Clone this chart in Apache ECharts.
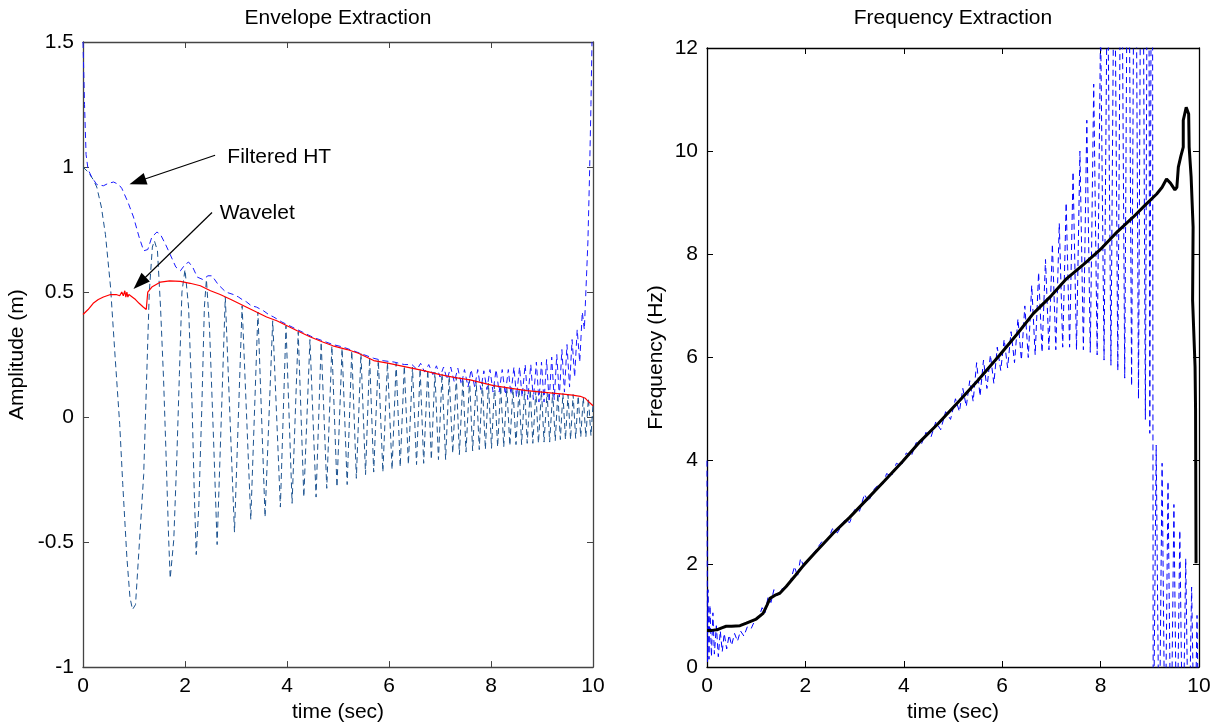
<!DOCTYPE html>
<html>
<head>
<meta charset="utf-8">
<title>Envelope / Frequency Extraction</title>
<script src="https://cdn.jsdelivr.net/npm/echarts@6/dist/echarts.min.js"></script>
<style>
  html, body { margin: 0; padding: 0; background: #fff; }
  #main { width: 1222px; height: 728px; }
</style>
</head>
<body>
<div id="main"></div>
<script>
// ---- values ----
// axis ranges: [min, max, interval]
var timeRange = [0, 10, 2];
var ampRange = [-1, 1.5, 0.5];
var freqRange = [0, 12, 2];

// left: measured signal (dark dashed), [time, amplitude]
var signal = [
  [0,1.0],[0.1,0.98],[0.2,0.95],[0.27,0.92],[0.36,0.84],[0.44,0.73],[0.54,0.52],[0.63,0.24],[0.72,-0.03],
  [0.78,-0.27],[0.86,-0.56],[0.92,-0.72],[0.97,-0.77],[1.03,-0.75],[1.11,-0.49],[1.19,-0.23],[1.25,0.17],
  [1.30,0.5],[1.36,0.68],[1.40,0.705],[1.46,0.665],[1.52,0.44],[1.58,0.15],[1.63,-0.16],[1.68,-0.49],
  [1.71,-0.645],[1.78,-0.49],[1.84,-0.16],[1.89,0.17],[1.94,0.5],[2.0,0.59],[2.07,0.44],[2.14,0.04],
  [2.18,-0.29],[2.22,-0.55],[2.27,-0.36],[2.33,0.04],[2.38,0.44],[2.42,0.55],[2.48,0.36],[2.56,-0.09],
  [2.63,-0.51],[2.79,0.48],[2.97,-0.46],[3.12,0.445],[3.29,-0.41],[3.43,0.42],[3.57,-0.40],[3.72,0.385],
  [3.87,-0.36],[3.98,0.365],[4.10,-0.345],[4.22,0.34],[4.33,-0.32],[4.45,0.31],[4.57,-0.32],[4.67,0.30],
  [4.78,-0.285],[4.88,0.285],[4.98,-0.28],[5.08,0.275],[5.18,-0.27],[5.27,0.265],[5.36,-0.245],[5.45,0.255],
  [5.54,-0.23],[5.62,0.24],[5.70,-0.22],[5.79,0.23],[5.88,-0.22],[5.97,0.22],[6.06,-0.21],[6.14,0.215],
  [6.22,-0.20],[6.30,0.205],[6.38,-0.19],[6.46,0.20],[6.54,-0.19],[6.61,0.195],[6.68,-0.185],[6.76,0.19],
  [6.83,-0.17],[6.90,0.18],[6.97,-0.17],[7.04,0.175],[7.11,-0.17],[7.18,0.165],[7.25,-0.145],[7.32,0.16],
  [7.38,-0.15],[7.45,0.155],[7.51,-0.14],[7.58,0.15],[7.64,-0.135],[7.71,0.145],[7.77,-0.13],[7.83,0.14],
  [7.89,-0.13],[7.95,0.135],[8.01,-0.125],[8.07,0.13],[8.13,-0.12],[8.19,0.125],[8.25,-0.12],[8.31,0.12],
  [8.37,-0.115],[8.43,0.115],[8.49,-0.11],[8.55,0.115],[8.60,-0.11],[8.66,0.11],[8.71,-0.105],[8.77,0.11],
  [8.82,-0.105],[8.88,0.105],[8.93,-0.105],[8.99,0.105],[9.04,-0.10],[9.10,0.10],[9.15,-0.10],[9.21,0.10],
  [9.26,-0.095],[9.31,0.095],[9.36,-0.09],[9.41,0.095],[9.46,-0.09],[9.51,0.09],[9.56,-0.09],[9.61,0.09],
  [9.66,-0.085],[9.71,0.085],[9.76,-0.08],[9.81,0.08],[9.86,-0.08],[9.91,0.075],[9.96,-0.075],[10,0.05]
];

// left: filtered Hilbert transform envelope (blue dashed)
var htEnvelope = [
  [0,1.5],[0.03,1.25],[0.06,1.05],[0.1,0.99],[0.17,0.96],[0.27,0.93],[0.4,0.925],[0.5,0.935],[0.6,0.94],
  [0.7,0.93],[0.76,0.915],[0.88,0.86],[0.99,0.80],[1.1,0.72],[1.19,0.665],[1.27,0.67],[1.35,0.72],
  [1.45,0.74],[1.52,0.73],[1.62,0.69],[1.71,0.65],[1.82,0.60],[1.91,0.585],[2.0,0.61],[2.07,0.62],
  [2.15,0.60],[2.24,0.56],[2.35,0.55],[2.45,0.565],[2.53,0.565],[2.65,0.53],[2.8,0.50],[2.95,0.49],
  [3.05,0.48],[3.12,0.47],[3.21,0.46],[3.3,0.445],[3.4,0.44],[3.54,0.425],[3.64,0.41],[3.74,0.40],
  [3.9,0.38],[4.1,0.36],[4.3,0.34],[4.5,0.32],[4.7,0.305],[4.9,0.29],[5.1,0.28],[5.3,0.265],[5.5,0.25],
  [5.7,0.235],[5.9,0.225],[6.1,0.22],[6.3,0.21],[6.45,0.21],[6.55,0.19],[6.62,0.215],[6.7,0.18],
  [6.78,0.21],[6.86,0.17],[6.93,0.205],[7.0,0.16],[7.07,0.2],[7.14,0.15],[7.21,0.2],[7.28,0.14],
  [7.35,0.195],[7.42,0.13],[7.48,0.19],[7.55,0.12],[7.61,0.19],[7.68,0.12],[7.74,0.19],[7.8,0.11],
  [7.86,0.185],[7.92,0.11],[7.98,0.19],[8.04,0.10],[8.1,0.19],[8.16,0.10],[8.22,0.19],[8.28,0.09],
  [8.34,0.19],[8.39,0.09],[8.45,0.2],[8.5,0.08],[8.56,0.2],[8.61,0.08],[8.67,0.21],[8.72,0.07],
  [8.78,0.21],[8.83,0.07],[8.89,0.22],[8.94,0.06],[8.99,0.22],[9.04,0.06],[9.09,0.23],[9.14,0.06],
  [9.19,0.24],[9.24,0.07],[9.29,0.25],[9.34,0.08],[9.39,0.27],[9.44,0.1],[9.49,0.29],[9.54,0.12],
  [9.59,0.31],[9.64,0.16],[9.69,0.35],[9.74,0.22],[9.79,0.42],[9.83,0.35],[9.87,0.55],[9.9,0.7],
  [9.93,0.95],[9.96,1.25],[9.98,1.5]
];

// left: wavelet envelope (red)
var waveletEnvelope = [
  [0,0.41],[0.1,0.43],[0.2,0.455],[0.3,0.47],[0.4,0.48],[0.54,0.49],[0.65,0.49],[0.72,0.485],[0.76,0.5],
  [0.79,0.485],[0.82,0.505],[0.84,0.48],[0.86,0.50],[0.88,0.48],[0.9,0.49],[1.03,0.47],[1.1,0.455],
  [1.18,0.44],[1.24,0.43],[1.27,0.50],[1.35,0.52],[1.52,0.54],[1.7,0.545],[1.91,0.543],[2.1,0.535],
  [2.3,0.525],[2.5,0.505],[2.69,0.49],[2.9,0.47],[3.15,0.445],[3.4,0.42],[3.6,0.40],[3.8,0.385],
  [4.0,0.365],[4.2,0.345],[4.46,0.32],[4.7,0.30],[4.9,0.285],[5.05,0.277],[5.18,0.27],[5.4,0.255],
  [5.7,0.226],[6.0,0.215],[6.35,0.20],[6.7,0.185],[7.0,0.17],[7.3,0.158],[7.59,0.149],[8.05,0.126],
  [8.4,0.115],[8.7,0.106],[9.0,0.10],[9.36,0.093],[9.6,0.088],[9.75,0.083],[9.85,0.075],[9.92,0.06],
  [10,0.045]
];

// right: HT instantaneous frequency (blue dashed), [time, Hz]
var htFrequency = [
  [0,4.0],[0.01,0.1],[0.02,1.5],[0.04,0.15],[0.06,1.2],[0.09,0.2],[0.12,1.05],[0.15,0.25],[0.19,0.8],
  [0.23,0.2],[0.27,0.7],[0.31,0.3],[0.35,0.65],[0.4,0.35],[0.45,0.62],[0.5,0.42],[0.56,0.65],[0.62,0.5],
  [0.68,0.7],[0.75,0.6],[0.82,0.78],[0.9,0.75],[0.98,0.92],[1.05,0.95],[1.12,1.15],[1.18,1.05],
  [1.24,1.35],[1.3,1.25],[1.36,1.5],[1.42,1.38],[1.5,1.5],[1.6,1.55],[1.7,1.68],[1.78,1.95],[1.84,1.75],
  [1.9,2.1],[1.97,1.95],[2.1,2.12],[2.2,2.25],[2.35,2.45],[2.45,2.45],[2.55,2.68],[2.65,2.6],[2.8,2.85],
  [2.9,2.8],[3.0,3.05],[3.1,3.02],[3.2,3.35],[3.28,3.2],[3.4,3.45],[3.5,3.55],[3.58,3.55],[3.65,3.75],
  [3.75,3.7],[3.85,3.95],[3.95,3.9],[4.05,4.15],[4.15,4.08],[4.25,4.35],[4.35,4.3],[4.45,4.55],
  [4.55,4.45],[4.65,4.75],[4.75,4.6],[4.85,4.95],[4.95,4.8],[5.05,5.2],[5.13,4.95],[5.2,5.4],[5.27,5.05],
  [5.34,5.55],[5.41,5.15],[5.48,5.9],[5.55,5.25],[5.62,5.95],[5.69,5.4],[5.76,6.05],[5.83,5.5],
  [5.9,6.2],[5.97,5.75],[6.04,6.35],[6.11,5.8],[6.18,6.5],[6.25,5.9],[6.32,6.75],[6.39,5.95],[6.46,7.0],
  [6.53,6.0],[6.6,7.4],[6.67,6.05],[6.74,7.65],[6.81,6.1],[6.88,7.9],[6.95,6.15],[7.02,8.2],[7.09,6.15],
  [7.16,8.6],[7.23,6.2],[7.3,9.0],[7.37,6.2],[7.44,9.6],[7.51,6.15],[7.58,10.0],[7.65,6.15],[7.72,10.6],
  [7.79,6.1],[7.86,11.3],[7.93,6.05],[8.0,12.5],[8.07,5.95],[8.14,14],[8.21,5.85],[8.28,15],[8.35,5.75],
  [8.42,16],[8.49,5.6],[8.56,17],[8.63,5.45],[8.7,18],[8.77,5.2],[8.84,19],[8.91,4.8],[8.97,20],
  [9.0,4.53],[9.05,20],[9.07,-2],[9.13,4.3],[9.19,-2],[9.25,3.95],[9.31,-2],[9.37,3.6],[9.43,-2],
  [9.49,3.15],[9.55,-2],[9.61,2.65],[9.67,-2],[9.73,2.1],[9.79,-2],[9.85,1.55],[9.91,-2],[9.96,1.0],[10,-2]
];

// right: wavelet ridge frequency (thick black)
var waveletFrequency = [
  [0,0.71],[0.1,0.71],[0.2,0.72],[0.3,0.76],[0.39,0.79],[0.5,0.79],[0.67,0.8],[0.8,0.85],[1.0,0.93],
  [1.14,1.04],[1.22,1.2],[1.28,1.33],[1.4,1.4],[1.48,1.43],[1.61,1.56],[1.8,1.78],[1.97,1.98],
  [2.2,2.22],[2.56,2.59],[2.9,2.9],[3.24,3.24],[3.6,3.6],[3.97,3.98],[4.33,4.37],[4.7,4.72],[5.14,5.17],
  [5.5,5.55],[5.95,6.05],[6.3,6.45],[6.63,6.85],[7.0,7.2],[7.31,7.53],[7.65,7.8],[7.98,8.08],[8.3,8.4],
  [8.66,8.72],[8.9,8.95],[9.14,9.17],[9.25,9.3],[9.34,9.46],[9.42,9.38],[9.51,9.25],[9.55,9.3],
  [9.58,9.69],[9.63,9.9],[9.68,10.08],[9.68,10.6],[9.74,10.85],[9.79,10.72],[9.80,10.08],[9.84,9.5],
  [9.88,8.53],[9.87,7.11],[9.92,5.82],[9.93,5.0],[9.94,2.01]
];

// annotations: [label, text anchor (t, amp), arrow start (t, amp), arrow head centre (t, amp)]
var notes = [
  ['Filtered HT', [2.83, 1.041], [2.59, 1.047], [1.07, 0.942]],
  ['Wavelet', [2.68, 0.815], [2.53, 0.818], [1.11, 0.536]]
];

var FONT = 'Liberation Sans, Arial, Helvetica, sans-serif';
var FS = 21;

var chart = echarts.init(document.getElementById('main'));

function axis(gridIndex, position, range, showLabel, name, nameGap, color) {
  return {
    gridIndex: gridIndex,
    type: 'value',
    position: position,
    min: range[0],
    max: range[1],
    interval: range[2],
    name: name || '',
    nameLocation: 'middle',
    nameGap: nameGap || 0,
    nameTextStyle: { fontFamily: FONT, fontSize: FS, color: '#000' },
    axisLine: { show: true, onZero: false, lineStyle: { color: color, width: 1.3 } },
    axisTick: { show: true, inside: true, length: 6, lineStyle: { color: color, width: 1 } },
    axisLabel: { show: showLabel, fontFamily: FONT, fontSize: FS, color: '#000', margin: 9 },
    splitLine: { show: false }
  };
}

var dash = [6, 4];

var option = {
  animation: false,
  backgroundColor: '#fff',
  grid: [
    { left: 83, top: 42, width: 510, height: 626 },
    { left: 707, top: 48, width: 492, height: 619 }
  ],
  xAxis: [
    axis(0, 'bottom', timeRange, true, 'time (sec)', 34, '#444'),
    axis(0, 'top', timeRange, false, '', 0, '#444'),
    axis(1, 'bottom', timeRange, true, 'time (sec)', 34, '#000'),
    axis(1, 'top', timeRange, false, '', 0, '#000')
  ],
  yAxis: [
    axis(0, 'left', ampRange, true, 'Amplitude (m)', 55, '#444'),
    axis(0, 'right', ampRange, false, '', 0, '#444'),
    axis(1, 'left', freqRange, true, 'Frequency (Hz)', 40, '#000'),
    axis(1, 'right', freqRange, false, '', 0, '#000')
  ],
  series: [
    {
      name: 'signal', type: 'line', xAxisIndex: 0, yAxisIndex: 0,
      data: signal, showSymbol: false, z: 2,
      lineStyle: { color: '#1c5390', width: 1, type: dash }
    },
    {
      name: 'Filtered HT', type: 'line', xAxisIndex: 0, yAxisIndex: 0,
      data: htEnvelope, showSymbol: false, z: 3,
      lineStyle: { color: '#1a1aff', width: 1, type: dash },
      markLine: {
        silent: true,
        symbol: ['none', 'triangle'],
        symbolSize: [12, 17],
        label: { show: false },
        itemStyle: { color: '#000' },
        lineStyle: { color: '#000', width: 1.2, type: 'solid' },
        data: notes.map(function (n) {
          return [{ coord: n[2] }, { coord: n[3] }];
        })
      }
    },
    {
      name: 'Wavelet', type: 'line', xAxisIndex: 0, yAxisIndex: 0,
      data: waveletEnvelope, showSymbol: false, z: 4,
      lineStyle: { color: '#ff0000', width: 1.2 }
    },
    {
      name: 'HT frequency', type: 'line', xAxisIndex: 2, yAxisIndex: 2,
      data: htFrequency, showSymbol: false, z: 2, clip: true,
      lineStyle: { color: '#0000ff', width: 1, type: dash }
    },
    {
      name: 'Wavelet frequency', type: 'line', xAxisIndex: 2, yAxisIndex: 2,
      data: waveletFrequency, showSymbol: false, z: 5, clip: true,
      lineStyle: { color: '#000', width: 3 }
    }
  ]
};

chart.setOption(option);

// titles and annotation texts placed through the axes
function txt(str, p, align) {
  return {
    type: 'text', x: p[0], y: p[1], silent: true,
    style: {
      text: str, fill: '#000', font: FS + 'px ' + FONT,
      textAlign: align, textVerticalAlign: 'middle',
      align: align, verticalAlign: 'middle'
    }
  };
}

var leftMid = chart.convertToPixel({ gridIndex: 0 }, [5, 0]);
var rightMid = chart.convertToPixel({ gridIndex: 1 }, [5, 0]);
var graphics = [
  txt('Envelope Extraction', [leftMid[0], 18], 'center'),
  txt('Frequency Extraction', [rightMid[0], 18], 'center')
];
notes.forEach(function (n) {
  graphics.push(txt(n[0], chart.convertToPixel({ gridIndex: 0 }, n[1]), 'left'));
});
chart.setOption({ graphic: graphics });
</script>
</body>
</html>
